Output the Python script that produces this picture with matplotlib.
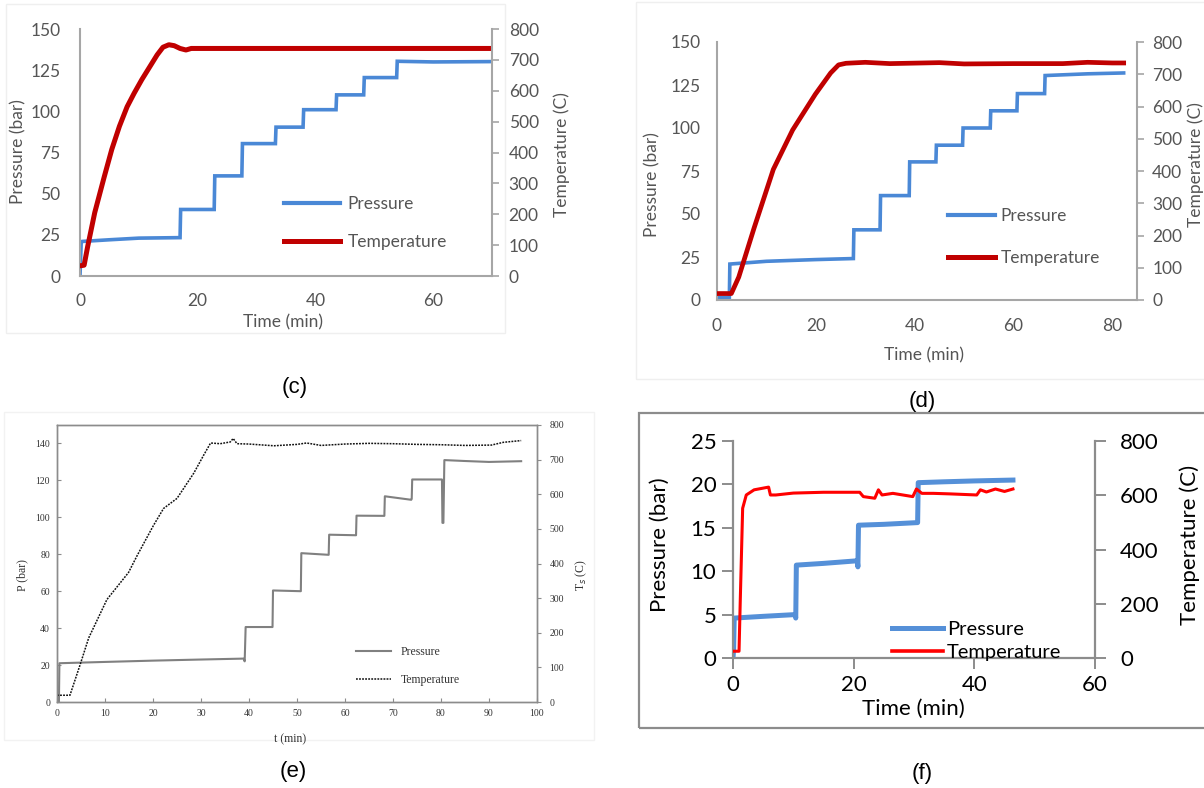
import matplotlib
matplotlib.use("Agg")
import matplotlib.pyplot as plt
from matplotlib.patches import Rectangle
from matplotlib.lines import Line2D

# ---------------- data ----------------
# panel (c)
c_time_p = [0, 0.2, 0.4, 5, 10, 17.0, 17.1, 22.8, 22.9, 27.5, 27.6, 33.2, 33.3, 37.9, 38.0,
            43.5, 43.6, 48.2, 48.3, 53.8, 53.9, 60, 69.7]
c_pres = [0, 20, 21, 22, 23, 23.3, 40.4, 40.4, 60.8, 60.8, 80.4, 80.4, 90.4, 90.4, 101,
          101, 110, 110, 120.5, 120.5, 130.4, 130, 130.2]
c_time_t = [0, 0.7, 1.3, 2.5, 4.1, 5.4, 6.7, 8.0, 9.2, 10.5, 11.8, 13.1, 14.1, 15.1, 16.0,
            17.0, 18.0, 18.9, 70]
c_temp = [33, 35, 95, 205, 320, 410, 485, 548, 592, 636, 676, 716, 741, 749, 746,
          737, 732, 737, 737]

# panel (d)
d_time_p = [0, 2.5, 2.6, 10, 20, 27.6, 27.7, 33.0, 33.1, 38.9, 39.0, 44.3, 44.4, 49.7, 49.8,
            55.3, 55.4, 60.7, 60.8, 66.3, 66.4, 75, 82.3]
d_pres = [1.5, 1.5, 20.9, 22.5, 23.5, 24.1, 40.8, 40.8, 60.7, 60.7, 80.3, 80.3, 90, 90, 100,
          100, 110, 110, 120, 120, 130.5, 131.5, 132]
d_time_t = [0, 2.9, 4.4, 7.5, 11.4, 15.3, 19.9, 23.0, 24.6, 26.1, 30, 35, 45, 50, 60, 70, 75, 80, 82.3]
d_temp = [20, 20, 71, 223, 405, 527, 638, 704, 729, 734, 737, 733, 736, 732, 733, 733, 737, 735, 735]

# panel (e)
e_time_p = [0, 0.4, 0.5, 10, 20, 30, 38.9, 39.1, 39.3, 44.9, 45.0, 50.8, 50.9, 56.6, 56.7,
            62.3, 62.4, 68.2, 68.3, 73.8, 73.9, 74.0, 80.2, 80.3, 80.5, 80.7, 85, 90, 96.7]
e_pres = [0, 0, 21, 21.7, 22.4, 23.0, 23.5, 22, 40.6, 40.6, 60.4, 60, 80.6, 79.7, 90.6,
          90.3, 100.9, 100.8, 111.4, 109.5, 110, 120.5, 120.5, 97, 97, 131, 130.5, 130, 130.4]
e_time_t = [0, 2.7, 4.8, 6.6, 10.4, 14.9, 16.7, 20.1, 22.2, 25.0, 28.5, 30.6, 32.0, 34, 36.1,
            36.7, 37.5, 40, 45.2, 50, 52, 55, 60, 65, 70, 75, 80, 85, 90.5, 93, 96.7]
e_temp = [19.5, 19.5, 107, 185, 296, 374, 423, 510, 559, 588, 661, 714, 748, 746, 751,
          761, 746, 745, 740, 744, 748, 741, 745, 747, 746, 744, 743, 741, 742, 750, 755]

# panel (f)
f_time_p = [0, 0.1, 0.2, 5, 10.3, 10.4, 10.5, 15, 20.6, 20.7, 20.8, 25, 30.6, 30.7, 35, 40, 46.4]
f_pres = [0, 1, 4.6, 4.8, 5.0, 4.6, 10.7, 10.9, 11.2, 10.5, 15.3, 15.4, 15.6, 20.2, 20.3, 20.4, 20.5]
f_time_t = [0, 1.0, 1.2, 1.6, 2.2, 3.5, 4.7, 5.9, 6.2, 7.1, 10, 15, 21.0, 21.6, 23.5, 24.1, 24.7,
            26.5, 29.8, 30.4, 31.3, 33.2, 36, 40.4, 41.0, 42, 43.5, 45, 46.4]
f_temp = [25, 25, 208, 552, 601, 620, 625, 630, 601, 601, 608, 611, 611, 595, 589, 620, 601,
          607, 595, 623, 607, 607, 605, 601, 620, 612, 623, 614, 623]

series_labels = ["Pressure", "Temperature"]
panel_labels = ["(c)", "(d)", "(e)", "(f)"]

# ---------------- helpers ----------------
W, H = 1204, 788
fig = plt.figure(figsize=(W / 100, H / 100), dpi=100)
fig.patch.set_facecolor("white")


def px_axes(x0, y0, x1, y1):
    return fig.add_axes([x0 / W, 1 - y1 / H, (x1 - x0) / W, (y1 - y0) / H])


def ftext(x, y, s, **kw):
    fig.text(x / W, 1 - y / H, s, **kw)


def fbox(x0, y0, x1, y1, color, lw):
    fig.add_artist(Rectangle((x0 / W, 1 - y1 / H), (x1 - x0) / W, (y1 - y0) / H,
                             transform=fig.transFigure, fill=False,
                             edgecolor=color, linewidth=lw))


SANS = ["Lato", "DejaVu Sans"]
SERIF = ["Liberation Serif", "DejaVu Serif"]
ARIAL = ["Liberation Sans", "DejaVu Sans"]
BLUE = "#4A88D6"
DRED = "#C00000"
GTXT = "#555555"
GAX = "#A6A6A6"


def excel_panel(x0, y0, x1, y1, xlim, xticks, ylim, yticks, y2lim, y2ticks, fs,
                txtcol, axcol, xpad, ypad, y2pad):
    ax = px_axes(x0, y0, x1, y1)
    ax2 = ax.twinx()
    ax.set_xlim(*xlim)
    ax.set_ylim(*ylim)
    ax2.set_ylim(*y2lim)
    ax.set_xticks(xticks)
    ax.set_yticks(yticks)
    ax2.set_yticks(y2ticks)
    for a in (ax, ax2):
        a.set_facecolor("none")
        for s in a.spines.values():
            s.set_visible(False)
    for s in (ax.spines["left"], ax.spines["bottom"], ax2.spines["right"]):
        s.set_visible(True)
        s.set_color(axcol)
        s.set_linewidth(1.5)
    ax.tick_params(axis="x", length=0, labelsize=fs, labelcolor=txtcol, pad=xpad)
    ax.tick_params(axis="y", length=0, labelsize=fs, labelcolor=txtcol, pad=ypad)
    ax2.tick_params(axis="y", length=5, width=1.2, color=axcol, labelsize=fs,
                    labelcolor=txtcol, pad=y2pad)
    for lab in ax.get_xticklabels() + ax.get_yticklabels() + ax2.get_yticklabels():
        lab.set_family(SANS)
    return ax, ax2


# ---------------- panel (c) ----------------
fbox(6, 4, 505, 333, "#EFEFEF", 1.0)
axc, axc2 = excel_panel(80, 29, 492, 276, (0, 70), [0, 20, 40, 60], (0, 150),
                        [0, 25, 50, 75, 100, 125, 150], (0, 800),
                        [0, 100, 200, 300, 400, 500, 600, 700, 800], 12.5, GTXT, GAX,
                        12, 14, 7)
axc.plot(c_time_p, c_pres, color=BLUE, lw=2.6, solid_joinstyle="miter")
axc2.plot(c_time_t, c_temp, color=DRED, lw=3.6)
hc = [Line2D([], [], color=BLUE, lw=3), Line2D([], [], color=DRED, lw=3.6)]
axc2.legend(hc, series_labels, loc="center left", bbox_to_anchor=(0.458, 0.215),
            frameon=False, prop={"family": SANS, "size": 12.5}, labelcolor=GTXT,
            handlelength=3.2, handletextpad=0.45, labelspacing=1.25)
ftext(18, 152, "Pressure (bar)", rotation=90, ha="center", va="center",
      family=SANS, size=12.5, color=GTXT)
ftext(562, 155, "Temperature (C)", rotation=90, ha="center", va="center",
      family=SANS, size=12.5, color=GTXT)
ftext(283, 322, "Time (min)", ha="center", va="center", family=SANS, size=12.5, color=GTXT)
ftext(295, 388, panel_labels[0], ha="center", va="center", family=ARIAL, size=16)

# ---------------- panel (d) ----------------
fbox(636, 2, 1210, 379, "#EFEFEF", 1.0)
axd, axd2 = excel_panel(717, 42, 1137, 300, (0, 85), [0, 20, 40, 60, 80], (0, 150),
                        [0, 25, 50, 75, 100, 125, 150], (0, 800),
                        [0, 100, 200, 300, 400, 500, 600, 700, 800], 12.5, GTXT, GAX,
                        13, 12, 6)
axd.plot(d_time_p, d_pres, color=BLUE, lw=2.6, solid_joinstyle="miter")
axd2.plot(d_time_t, d_temp, color=DRED, lw=3.4)
axd2.legend(hc, series_labels, loc="center left", bbox_to_anchor=(0.512, 0.245),
            frameon=False, prop={"family": SANS, "size": 12.5}, labelcolor=GTXT,
            handlelength=2.7, handletextpad=0.35, labelspacing=1.5)
ftext(652, 185, "Pressure (bar)", rotation=90, ha="center", va="center",
      family=SANS, size=12.5, color=GTXT)
ftext(1196, 165, "Temperature (C)", rotation=90, ha="center", va="center",
      family=SANS, size=12.5, color=GTXT)
ftext(924, 355, "Time (min)", ha="center", va="center", family=SANS, size=12.5, color=GTXT)
ftext(922, 401, panel_labels[1], ha="center", va="center", family=ARIAL, size=16)

# ---------------- panel (e) ----------------
fbox(4, 412, 594, 740, "#F2F2F2", 1.0)
axe = px_axes(57, 425, 537, 702)
axe2 = axe.twinx()
axe.set_xlim(0, 100)
axe.set_ylim(0, 150)
axe2.set_ylim(0, 800)
axe.set_xticks(range(0, 101, 10))
axe.set_yticks(range(0, 141, 20))
axe2.set_yticks(range(0, 801, 100))
for a in (axe, axe2):
    a.set_facecolor("none")
    for s in a.spines.values():
        s.set_color("#8C8C8C")
        s.set_linewidth(1.0)
axe.tick_params(axis="both", direction="in", length=3, color="#8C8C8C", labelsize=7,
                labelcolor="#333333", pad=5)
axe2.tick_params(axis="y", direction="out", length=3, color="#8C8C8C", labelsize=7,
                 labelcolor="#333333", pad=6)
for lab in axe.get_xticklabels() + axe.get_yticklabels() + axe2.get_yticklabels():
    lab.set_family(SERIF)
axe.plot(e_time_p, e_pres, color="#808080", lw=1.5)
axe2.plot(e_time_t, e_temp, color="#111111", lw=1.1, linestyle=(0, (1.2, 0.8)))
he = [Line2D([], [], color="#808080", lw=1.5),
      Line2D([], [], color="#111111", lw=1.1, linestyle=(0, (1.2, 0.8)))]
axe2.legend(he, series_labels, loc="center left", bbox_to_anchor=(0.6, 0.13),
            frameon=False, prop={"family": SERIF, "size": 8.5}, labelcolor="#333333",
            handlelength=3.0, handletextpad=0.8, labelspacing=1.35)
ftext(22, 575, "P (bar)", rotation=90, ha="center", va="center", family=SERIF,
      size=8.5, color="#333333")
ftext(581, 575, "T$_s$ (C)", rotation=90, ha="center", va="center", family=SERIF,
      size=8.5, color="#333333")
ftext(290, 739, "t (min)", ha="center", va="center", family=SERIF, size=8.5, color="#333333")
ftext(293, 771, panel_labels[2], ha="center", va="center", family=ARIAL, size=16)

# ---------------- panel (f) ----------------
fbox(639, 413, 1215, 728, "#8C8C8C", 1.6)
axf = px_axes(733, 441, 1095, 658)
axf2 = axf.twinx()
axf.set_xlim(0, 60)
axf.set_ylim(0, 25)
axf2.set_ylim(0, 800)
axf.set_xticks([0, 20, 40, 60])
axf.set_yticks([0, 5, 10, 15, 20, 25])
axf2.set_yticks([0, 200, 400, 600, 800])
for a in (axf, axf2):
    a.set_facecolor("none")
    for s in a.spines.values():
        s.set_visible(False)
axf.spines["left"].set_visible(True)
axf.spines["bottom"].set_visible(True)
axf2.spines["right"].set_visible(True)
for s in (axf.spines["left"], axf.spines["bottom"], axf2.spines["right"]):
    s.set_color("#8C8C8C")
    s.set_linewidth(1.6)
axf.tick_params(axis="both", direction="out", length=8, width=1.4, color="#8C8C8C",
                labelsize=16, labelcolor="black", pad=4)
axf2.tick_params(axis="y", direction="out", length=8, width=1.4, color="#8C8C8C",
                 labelsize=16, labelcolor="black", pad=10)
for lab in axf.get_xticklabels() + axf.get_yticklabels() + axf2.get_yticklabels():
    lab.set_family(SANS)
axf.plot(f_time_p, f_pres, color="#5590D8", lw=3.6)
axf2.plot(f_time_t, f_temp, color="#FF0000", lw=2.2)
hf = [Line2D([], [], color="#5590D8", lw=3.6), Line2D([], [], color="#FF0000", lw=2.6)]
axf2.legend(hf, series_labels, loc="center left", bbox_to_anchor=(0.39, 0.078),
            frameon=False, prop={"family": SANS, "size": 14.5},
            handlelength=2.5, handletextpad=0.2, labelspacing=0.3)
ftext(660, 545, "Pressure (bar)", rotation=90, ha="center", va="center", family=SANS, size=16)
ftext(1190, 545, "Temperature (C)", rotation=90, ha="center", va="center", family=SANS, size=16)
ftext(913, 709, "Time (min)", ha="center", va="center", family=SANS, size=16)
ftext(922, 773, panel_labels[3], ha="center", va="center", family=ARIAL, size=16)

fig.savefig("out.png", dpi=100, facecolor="white")
